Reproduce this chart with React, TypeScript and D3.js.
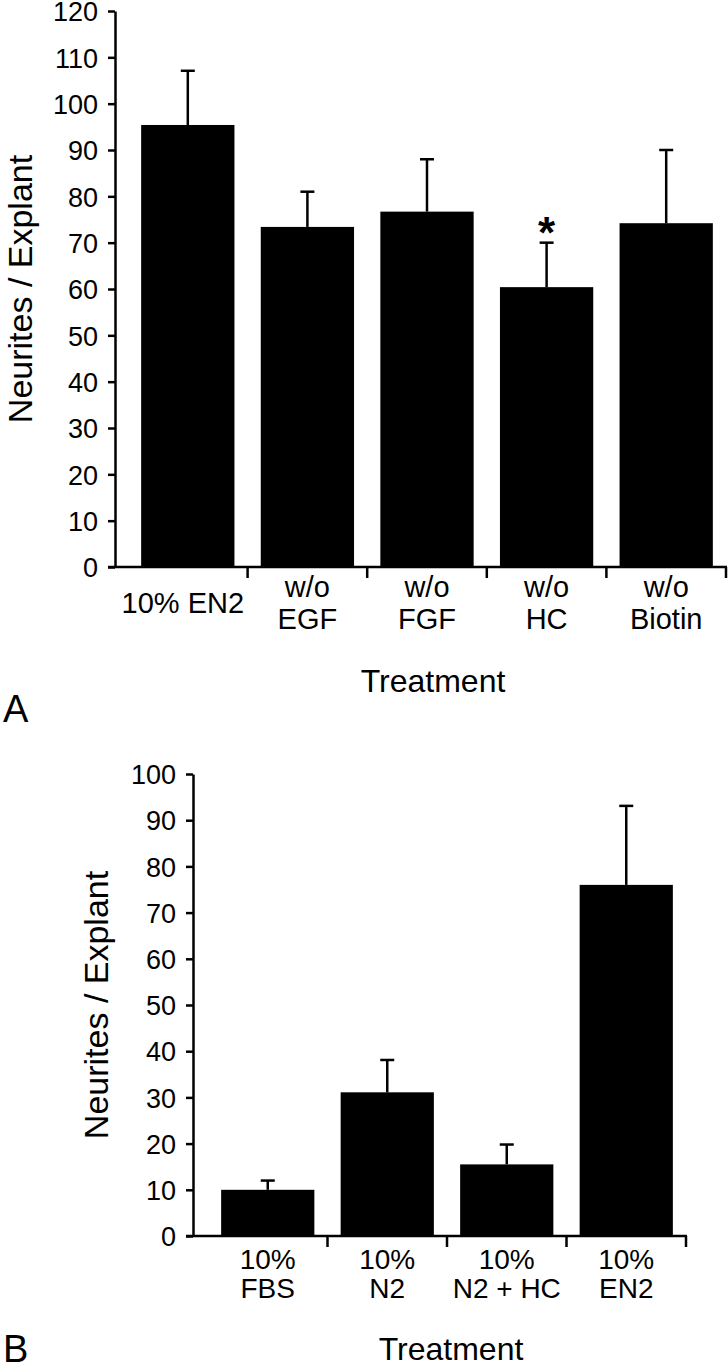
import React, { useRef, useEffect } from "react";
import * as d3 from "d3";

// Panel A
const categoriesA = ["10% EN2", "w/o|EGF", "w/o|FGF", "w/o|HC", "w/o|Biotin"];
const valuesA = [95.4, 73.4, 76.7, 60.4, 74.2];
const errorsA = [11.7, 7.6, 11.3, 9.6, 15.8];
const starsA = [false, false, false, true, false];
const ticksA = [0, 10, 20, 30, 40, 50, 60, 70, 80, 90, 100, 110, 120];

// Panel B
const categoriesB = ["10%|FBS", "10%|N2", "10%|N2 + HC", "10%|EN2"];
const valuesB = [10.0, 31.1, 15.5, 76.0];
const errorsB = [2.0, 7.0, 4.3, 17.1];
const starsB = [false, false, false, false];
const ticksB = [0, 10, 20, 30, 40, 50, 60, 70, 80, 90, 100];

const FONT = "'Liberation Sans', Arial, Helvetica, sans-serif";

type Panel = {
  cats: string[];
  vals: number[];
  errs: number[];
  stars: boolean[];
  ticks: number[];
  axisX: number; // y axis position
  left: number; // first band start
  right: number;
  top: number;
  bottom: number;
  lineOne: number; // single line label offset
  lineA: number;
  lineB: number;
  labelSize: number;
  yLabelX: number;
  titleX: number;
  titleY: number;
  letter: string;
  letterY: number;
};

function drawPanel(svg: d3.Selection<SVGGElement, unknown, null, undefined>, p: Panel) {
  const max = p.ticks[p.ticks.length - 1];
  const y = d3.scaleLinear().domain([0, max]).range([p.bottom, p.top]);
  const x = d3.scaleBand<string>().domain(p.cats).range([p.left, p.right]).padding(0);
  const barW = x.bandwidth() * 0.78;

  const g = svg.append("g");

  // bars
  g.selectAll("rect.bar")
    .data(p.cats)
    .enter()
    .append("rect")
    .attr("class", "bar")
    .attr("x", (d) => x(d)! + (x.bandwidth() - barW) / 2)
    .attr("width", barW)
    .attr("y", (d, i) => y(p.vals[i]))
    .attr("height", (d, i) => p.bottom - y(p.vals[i]))
    .attr("fill", "#000");

  // error bars (upper only)
  p.cats.forEach((c, i) => {
    const cx = x(c)! + x.bandwidth() / 2;
    const yTop = y(p.vals[i] + p.errs[i]);
    g.append("line")
      .attr("x1", cx).attr("x2", cx)
      .attr("y1", y(p.vals[i])).attr("y2", yTop)
      .attr("stroke", "#000").attr("stroke-width", 2.5);
    g.append("line")
      .attr("x1", cx - 7).attr("x2", cx + 7)
      .attr("y1", yTop).attr("y2", yTop)
      .attr("stroke", "#000").attr("stroke-width", 2.5);
    if (p.stars[i]) {
      // asterisk sits just above the cap
      g.append("text")
        .attr("x", cx)
        .attr("y", yTop + 5)
        .attr("text-anchor", "middle")
        .attr("font-family", FONT)
        .attr("font-weight", "bold")
        .attr("font-size", 44)
        .text("*");
    }
  });

  // y axis
  const yAxis = d3.axisLeft(y).tickValues(p.ticks).tickSize(7).tickSizeOuter(0).tickPadding(10);
  const ya = g.append("g").attr("transform", `translate(${p.axisX},0)`).call(yAxis);
  ya.select(".domain").attr("stroke-width", 2.5);
  ya.selectAll(".tick line").attr("stroke-width", 2.5);
  ya.selectAll(".tick text")
    .attr("font-family", FONT)
    .attr("font-size", 27)
    .attr("fill", "#000")
    .attr("dy", "0.36em");

  // x axis line
  g.append("line")
    .attr("x1", p.axisX - 7).attr("x2", p.right + 1)
    .attr("y1", p.bottom).attr("y2", p.bottom)
    .attr("stroke", "#000").attr("stroke-width", 2.5);

  // category ticks at band boundaries
  p.cats.forEach((c) => {
    const bx = x(c)! + x.bandwidth();
    g.append("line")
      .attr("x1", bx).attr("x2", bx)
      .attr("y1", p.bottom).attr("y2", p.bottom + 11)
      .attr("stroke", "#000").attr("stroke-width", 2.5);
  });

  // category labels
  p.cats.forEach((c) => {
    const cx = x(c)! + x.bandwidth() / 2;
    const lines = c.split("|");
    const t = g.append("text")
      .attr("text-anchor", "middle")
      .attr("font-family", FONT)
      .attr("font-size", p.labelSize)
      .attr("fill", "#000");
    if (lines.length === 1) {
      t.append("tspan").attr("x", cx - 5).attr("y", p.bottom + p.lineOne).text(lines[0]);
    } else {
      t.append("tspan").attr("x", cx).attr("y", p.bottom + p.lineA).text(lines[0]);
      t.append("tspan").attr("x", cx).attr("y", p.bottom + p.lineB).text(lines[1]);
    }
  });

  // y label
  g.append("text")
    .attr("transform", `translate(${p.yLabelX},${(p.top + p.bottom) / 2}) rotate(-90)`)
    .attr("text-anchor", "middle")
    .attr("font-family", FONT)
    .attr("font-size", 34)
    .attr("fill", "#000")
    .text("Neurites / Explant");

  // x title
  g.append("text")
    .attr("x", p.titleX)
    .attr("y", p.titleY)
    .attr("text-anchor", "middle")
    .attr("font-family", FONT)
    .attr("font-size", 32)
    .attr("fill", "#000")
    .text("Treatment");

  // panel letter
  g.append("text")
    .attr("x", 3)
    .attr("y", p.letterY)
    .attr("font-family", FONT)
    .attr("font-size", 38)
    .attr("fill", "#000")
    .text(p.letter);
}

export default function App() {
  const ref = useRef<SVGGElement>(null);

  useEffect(() => {
    const svg = d3.select(ref.current!);
    svg.selectAll("*").remove();

    drawPanel(svg, {
      cats: categoriesA, vals: valuesA, errs: errorsA, stars: starsA, ticks: ticksA,
      axisX: 115, left: 128, right: 726, top: 11, bottom: 567,
      lineOne: 46, lineA: 30, lineB: 62, labelSize: 29,
      yLabelX: 32, titleX: 433, titleY: 692, letter: "A", letterY: 722,
    });

    drawPanel(svg, {
      cats: categoriesB, vals: valuesB, errs: errorsB, stars: starsB, ticks: ticksB,
      axisX: 193, left: 208, right: 686, top: 774, bottom: 1236,
      lineOne: 46, lineA: 33, lineB: 62, labelSize: 28,
      yLabelX: 108, titleX: 451, titleY: 1360, letter: "B", letterY: 1362,
    });
  }, []);

  return (
    <svg
      width={728}
      height={1367}
      style={{ position: "absolute", left: 0, top: 0, background: "#fff" }}
    >
      <g ref={ref} />
    </svg>
  );
}
